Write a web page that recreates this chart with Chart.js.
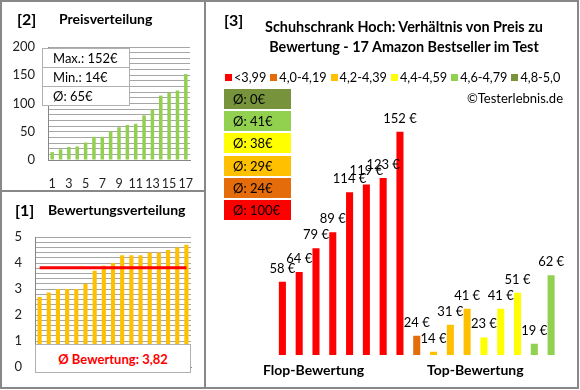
<!DOCTYPE html>
<html>
<head>
<meta charset="utf-8">
<script src="https://cdn.jsdelivr.net/npm/chart.js@4.4.1/dist/chart.umd.min.js"></script>
<style>
  body { margin: 0; background: #fff; font-family: Lato, sans-serif; }
  #wrap { position: relative; width: 580px; height: 390px; overflow: hidden; }
  canvas { position: absolute; }
  .t { position: absolute; white-space: nowrap; color: #000; }
  .b { font-weight: bold; }
  .line { position: absolute; background: #888; }
  .frame { position: absolute; left: 0; top: 0; width: 579px; height: 389px; box-sizing: border-box; border: 2px solid #888; }
  .statbox { position: absolute; left: 42px; top: 48px; width: 88px; background: #fff; border: 1px solid #b0b0b0; box-sizing: border-box; }
  .statbox div { height: 18px; line-height: 18px; padding-left: 10px; font-size: 13px; border-top: 1px solid #b0b0b0; }
  .statbox div:first-child { border-top: none; }
  .avgbox { position: absolute; left: 224px; width: 67px; height: 20px; line-height: 20px; font-size: 13px; padding-left: 9px; box-sizing: border-box; }
  #legend { position: absolute; top: 69px; left: 225px; font-size: 12.7px; white-space: nowrap; line-height: 16px; }
  #legend span.it { margin-right: 4px; }
  #legend span.sq { display: inline-block; width: 7px; height: 7px; margin-right: 2px; vertical-align: 1px; }
</style>
</head>
<body>
<div id="wrap">
  <canvas id="price" width="205" height="191" style="left:0;top:0"></canvas>
  <canvas id="rating" width="205" height="197" style="left:0;top:191px"></canvas>
  <canvas id="ratio" width="373" height="388" style="left:205px;top:0"></canvas>

  <div class="t b" style="left:17px;top:9px;font-size:16px">[2]</div>
  <div class="t b" style="left:59px;top:10px;font-size:14px">Preisverteilung</div>
  <div class="statbox" id="stats"></div>

  <div class="t b" style="left:15px;top:200px;font-size:16px">[1]</div>
  <div class="t b" style="left:48px;top:201px;font-size:14px">Bewertungsverteilung</div>
  <div id="avgRating" style="position:absolute;left:35px;top:344px;width:156px;height:29px;line-height:28px;background:#fff;border:1px solid #b0b0b0;box-sizing:border-box;text-align:center;color:#ff0000;font-size:13px;font-weight:bold"></div>

  <div class="t b" style="left:224px;top:10px;font-size:16px">[3]</div>
  <div class="t b" style="left:205px;width:398px;top:17px;font-size:14.4px;text-align:center;line-height:20px">Schuhschrank Hoch: Verhältnis von Preis zu<br>Bewertung - 17 Amazon Bestseller im Test</div>
  <div id="legend"></div>
  <div id="avgBoxes"></div>
  <div class="t" style="right:17px;top:90px;font-size:13px">©Testerlebnis.de</div>
  <div class="t b" style="left:263px;top:361px;font-size:14px">Flop-Bewertung</div>
  <div class="t b" style="left:427px;top:361px;font-size:14px">Top-Bewertung</div>

  <div class="frame"></div>
  <div class="line" style="left:204px;top:0;width:2px;height:389px"></div>
  <div class="line" style="left:0;top:190px;width:205px;height:2px"></div>
</div>
<script>
// data
const productNo = ['1','2','3','4','5','6','7','8','9','10','11','12','13','14','15','16','17'];
const pricesSorted = [14, 19, 23, 24, 31, 41, 41, 51, 58, 62, 64, 79, 89, 114, 119, 123, 152];
const ratingsSorted = [2.7, 2.87, 3.0, 3.0, 3.0, 3.2, 3.7, 3.9, 4.0, 4.3, 4.3, 4.3, 4.4, 4.4, 4.5, 4.6, 4.7];

const groupLabels = ['<3,99', '4,0-4,19', '4,2-4,39', '4,4-4,59', '4,6-4,79', '4,8-5,0'];
const groupColors = ['#ff0000', '#e46c0a', '#ffc000', '#ffff00', '#92d050', '#77933c'];
const groupPrices = [
    [58, 64, 79, 89, 114, 119, 123, 152],
    [24],
    [14, 31, 41],
    [23, 41, 51],
    [19, 62],
    []
];

const FONT = 'Lato, sans-serif';
const GRID = '#a6a6a6';
const AXIS = '#868686';

const avg = arr => arr.length ? arr.reduce((a, b) => a + b, 0) / arr.length : 0;

// stats box
document.getElementById('stats').innerHTML =
    `<div>Max.: ${Math.max(...pricesSorted)}€</div>` +
    `<div>Min.: ${Math.min(...pricesSorted)}€</div>` +
    `<div>Ø: ${Math.round(avg(pricesSorted))}€</div>`;

const ratingMean = avg(ratingsSorted);
document.getElementById('avgRating').textContent = 'Ø Bewertung: ' + ratingMean.toFixed(2).replace('.', ',');

// legend + average boxes
document.getElementById('legend').innerHTML = groupLabels.map((l, i) =>
    `<span class="it"><span class="sq" style="background:${groupColors[i]}"></span>${l}</span>`).join('');

const boxTops = [89, 111, 133, 156, 178, 200];
let html = '';
for (let k = 0; k < 6; k++) {
    const g = 5 - k;
    html += `<div class="avgbox" style="top:${boxTops[k]}px;background:${groupColors[g]}">Ø: ${Math.round(avg(groupPrices[g]))}€</div>`;
}
document.getElementById('avgBoxes').innerHTML = html;

// chart 1: price distribution
new Chart(document.getElementById('price'), {
    type: 'bar',
    data: {
        labels: productNo,
        datasets: [{ data: pricesSorted, backgroundColor: '#92d050', barPercentage: 0.42, categoryPercentage: 1 }]
    },
    options: {
        responsive: false,
        animation: false,
        layout: { padding: { top: 47, right: 15, left: 0, bottom: 0 } },
        plugins: { legend: { display: false }, tooltip: { enabled: false } },
        scales: {
            y: {
                min: 0, max: 200,
                afterFit: s => { s.width = 48; },
                ticks: {
                    stepSize: 10, autoSkip: false, padding: 13, color: '#222', font: { family: FONT, size: 13 },
                    callback: v => v % 50 === 0 ? v : ''
                },
                grid: { color: GRID, drawTicks: false },
                border: { color: AXIS }
            },
            x: {
                afterFit: s => { s.height = 31; },
                grid: { display: false },
                border: { color: AXIS },
                ticks: {
                    autoSkip: false, maxRotation: 0, padding: 8, color: '#222', font: { family: FONT, size: 12.5 },
                    callback: (v, i) => i % 2 === 0 ? productNo[i] : ''
                }
            }
        }
    }
});

// chart 2: rating distribution
new Chart(document.getElementById('rating'), {
    type: 'bar',
    data: {
        labels: productNo,
        datasets: [
            { type: 'line', data: productNo.map(() => ratingMean), borderColor: '#ff0000', borderWidth: 3, pointRadius: 0 },
            { data: ratingsSorted, backgroundColor: '#ffc000', barPercentage: 0.45, categoryPercentage: 1 }
        ]
    },
    options: {
        responsive: false,
        animation: false,
        layout: { padding: { top: 46, right: 14, left: 0, bottom: 0 } },
        plugins: { legend: { display: false }, tooltip: { enabled: false } },
        scales: {
            y: {
                min: 0, max: 5,
                afterFit: s => { s.width = 35; },
                ticks: {
                    stepSize: 0.2, autoSkip: false, padding: 13, color: '#222', font: { family: FONT, size: 13 },
                    callback: v => Math.abs(v - Math.round(v)) < 1e-6 ? Math.round(v) : ''
                },
                grid: { color: GRID, drawTicks: false },
                border: { color: AXIS }
            },
            x: {
                afterFit: s => { s.height = 15; },
                grid: { display: false },
                ticks: { display: false },
                border: { color: AXIS }
            }
        }
    }
});

// chart 3: price vs rating
const ratioValues = groupPrices.flat();
const ratioColors = groupPrices.flatMap((g, i) => g.map(() => groupColors[i]));

const valueLabels = {
    id: 'valueLabels',
    afterDatasetsDraw(chart) {
        const ctx = chart.ctx;
        const meta = chart.getDatasetMeta(0);
        ctx.save();
        ctx.font = '13px ' + FONT;
        ctx.fillStyle = '#000';
        ctx.textAlign = 'center';
        ctx.textBaseline = 'alphabetic';
        meta.data.forEach((bar, i) => {
            ctx.fillText(ratioValues[i] + ' €', bar.x, bar.y - 9);
        });
        ctx.restore();
    }
};

new Chart(document.getElementById('ratio'), {
    type: 'bar',
    data: {
        labels: ratioValues.map((v, i) => String(i + 1)),
        datasets: [{ data: ratioValues, backgroundColor: ratioColors, barPercentage: 0.42, categoryPercentage: 1 }]
    },
    options: {
        responsive: false,
        animation: false,
        layout: { padding: { top: 119, right: 18.5, left: 69, bottom: 33 } },
        plugins: { legend: { display: false }, tooltip: { enabled: false } },
        scales: {
            y: { display: false, min: 12, max: 160 },
            x: { display: false }
        }
    },
    plugins: [valueLabels]
});
</script>
</body>
</html>
